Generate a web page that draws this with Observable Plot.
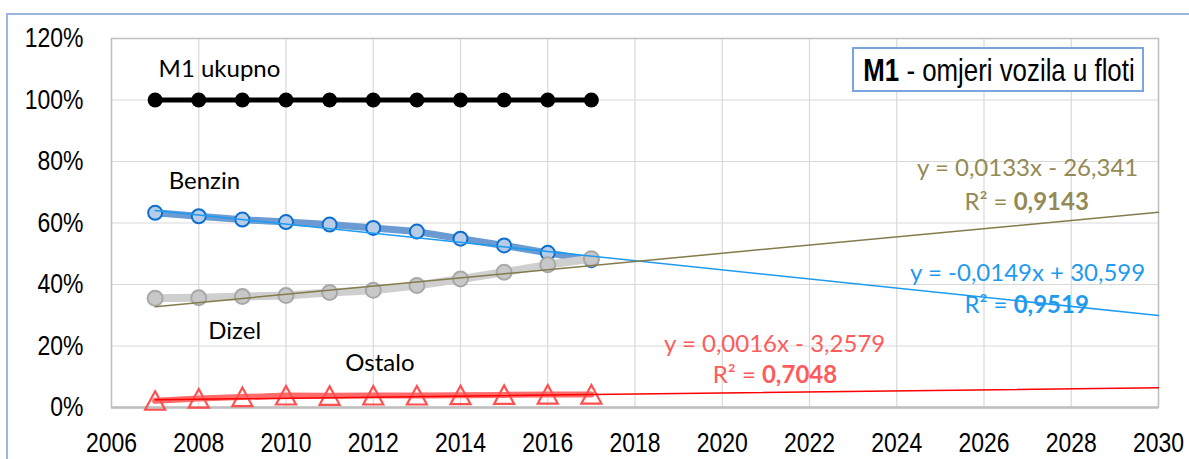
<!DOCTYPE html>
<html><head><meta charset="utf-8">
<script src="https://cdn.jsdelivr.net/npm/d3@7"></script>
<script src="https://cdn.jsdelivr.net/npm/@observablehq/plot@0.6"></script>
<style>
body{margin:0;background:#fff;}
#wrap{position:relative;width:1189px;height:459px;overflow:hidden;background:#fff;}
#wrap svg{position:absolute;left:0;top:0;}
#border{position:absolute;left:6px;top:13px;width:1200px;height:460px;border-left:2px solid #9BB7DE;border-top:2px solid #9BB7DE;pointer-events:none;}
#legend{position:absolute;left:852px;top:47px;width:288px;height:41px;border:2px solid #7AA5DF;background:#fff;overflow:hidden;}
#legend span{position:absolute;left:145px;top:21px;transform:translate(-50%,-50%) scaleX(0.82);transform-origin:50% 50%;font-family:"Liberation Sans",Arial,sans-serif;font-size:31.5px;line-height:32px;white-space:nowrap;color:#000;}
</style></head>
<body><div id="wrap"></div>
<script>
// ---- data ----
const years = [2007, 2008, 2009, 2010, 2011, 2012, 2013, 2014, 2015, 2016, 2017];
const m1Total = [100, 100, 100, 100, 100, 100, 100, 100, 100, 100, 100];
const benzin = [63.3, 62.2, 61.1, 60.3, 59.5, 58.4, 57.2, 54.9, 52.7, 50.3, 47.9];
const dizel = [35.5, 35.7, 36.1, 36.4, 37.4, 38.1, 39.7, 41.8, 44.0, 46.4, 48.4];
const ostalo = [2.2, 2.9, 3.4, 3.9, 3.8, 3.9, 3.9, 4.0, 4.1, 4.2, 4.2];

const trendYears = [2007, 2030];
const benzinTrend = [64.1, 29.9];
const dizelTrend = [32.8, 63.5];
const ostaloTrend = [2.5, 6.4];

const xTicks = [2006, 2008, 2010, 2012, 2014, 2016, 2018, 2020, 2022, 2024, 2026, 2028, 2030];
const yTicks = [0, 20, 40, 60, 80, 100, 120];

const seriesLabels = ["M1 ukupno", "Benzin", "Dizel", "Ostalo"];
const seriesLabelX = [2007.08, 2007.31, 2008.22, 2011.36];
const seriesLabelY = [109.9, 73.5, 24.7, 14.3];

const eqTexts = ["y = 0,0133x - 26,341", "y = -0,0149x + 30,599", "y = 0,0016x - 3,2579"];
const eqX = [2027.0, 2027.0, 2021.2];
const eqY = [77.7, 43.5, 20.7];
const r2Values = ["0,9143", "0,9519", "0,7048"];
const r2X = [2026.68, 2026.68, 2020.91];
const r2Y = [66.8, 33.2, 10.4];
const eqColors = ["#948A54", "#1E9BF0", "#FF5B5B"];

const legendTitleBold = "M1";
const legendTitleRest = " - omjeri vozila u floti";

// ---- tables ----
const rows = years.map((yr, i) => ({year: yr, m1: m1Total[i], benzin: benzin[i], dizel: dizel[i], ostalo: ostalo[i]}));
const trendRows = trendYears.map((yr, i) => ({year: yr, benzin: benzinTrend[i], dizel: dizelTrend[i], ostalo: ostaloTrend[i]}));
const labelRows = seriesLabels.map((t, i) => ({t, x: seriesLabelX[i], y: seriesLabelY[i]}));
const eqRows = eqTexts.map((t, i) => ({t, x: eqX[i], y: eqY[i], c: eqColors[i], r2: r2Values[i], rx: r2X[i], ry: r2Y[i]}));

const wideTriangle = {
  draw(ctx) {
    ctx.moveTo(0, -9.5);
    ctx.lineTo(10, 9);
    ctx.lineTo(-10, 9);
    ctx.closePath();
  }
};

const sansArial = "Liberation Sans, Arial, sans-serif";
const calibriLike = "Lato, Carlito, Calibri, sans-serif";

const chart = Plot.plot({
  width: 1189,
  height: 459,
  marginLeft: 111,
  marginRight: 31,
  marginTop: 38,
  marginBottom: 52,
  style: {background: "transparent", fontFamily: sansArial},
  x: {domain: [2006, 2030]},
  y: {domain: [0, 120]},
  color: {type: "identity"},
  marks: [
    Plot.gridX(xTicks, {stroke: "#D9D9D9", strokeOpacity: 1, strokeWidth: 1.2}),
    Plot.gridY(yTicks, {stroke: "#D9D9D9", strokeOpacity: 1, strokeWidth: 1.2}),
    Plot.frame({stroke: "#BFBFBF", strokeWidth: 1.5}),
    Plot.ruleY([0], {stroke: "#BFBFBF", strokeWidth: 2.5}),
    Plot.axisX(xTicks, {tickSize: 0, tickPadding: 25, fontSize: 28, fontFamily: sansArial, fill: "#000", tickFormat: d => String(d), label: null}),
    Plot.axisY(yTicks, {tickSize: 0, tickPadding: 28, fontSize: 28, fontFamily: sansArial, fill: "#000", tickFormat: d => d + "%", label: null}),

    Plot.line(rows, {x: "year", y: "m1", stroke: "#000", strokeWidth: 5}),
    Plot.dot(rows, {x: "year", y: "m1", r: 7.5, fill: "#000", stroke: "none"}),

    Plot.line(rows, {x: "year", y: "benzin", stroke: "#6B9BD2", strokeWidth: 7}),
    Plot.dot(rows, {x: "year", y: "benzin", r: 7, fill: "#B8CCE8", stroke: "#0A6FD0", strokeWidth: 2}),

    Plot.line(rows, {x: "year", y: "dizel", stroke: "#CFCFCF", strokeWidth: 8}),
    Plot.dot(rows, {x: "year", y: "dizel", r: 7.5, fill: "#C8C8C8", stroke: "#A8A8A8", strokeWidth: 2}),

    Plot.line(rows, {x: "year", y: "ostalo", stroke: "#FF6A6A", strokeWidth: 6}),
    Plot.dot(rows, {x: "year", y: "ostalo", symbol: wideTriangle, r: 9, fill: "#fff", fillOpacity: 0, stroke: "#FF5050", strokeWidth: 2.2}),

    Plot.line(trendRows, {x: "year", y: "benzin", stroke: "#1E9BF0", strokeWidth: 1.5}),
    Plot.line(trendRows, {x: "year", y: "dizel", stroke: "#857A4C", strokeWidth: 1.5}),
    Plot.line(trendRows, {x: "year", y: "ostalo", stroke: "#FF0000", strokeWidth: 1.5}),

    Plot.text(labelRows, {x: "x", y: "y", text: "t", textAnchor: "start", fontSize: 24, fontFamily: calibriLike, fill: "#000"}),
    Plot.text(eqRows, {x: "x", y: "y", text: "t", fontSize: 24, fontFamily: calibriLike, fill: "c"}),
    Plot.text(eqRows, {x: "rx", y: "ry", text: () => "R² = ", textAnchor: "end", fontSize: 24, fontFamily: calibriLike, fill: "c"}),
    Plot.text(eqRows, {x: "rx", y: "ry", text: "r2", textAnchor: "start", fontSize: 24, fontWeight: "bold", fontFamily: calibriLike, fill: "c"})
  ]
});

// condense the axis tick labels (Arial Narrow look)
d3.select(chart).selectAll('g[aria-label$="tick label"] text').each(function () {
  const t = this.getAttribute("transform");
  if (t) {
    this.setAttribute("transform", t + " scale(0.82,1)");
  } else {
    const x = +this.getAttribute("x") || 0, y = +this.getAttribute("y") || 0;
    this.setAttribute("transform", `translate(${x},${y}) scale(0.82,1) translate(${-x},${-y})`);
  }
});

const wrap = document.getElementById("wrap");
wrap.appendChild(chart);
const border = document.createElement("div");
border.id = "border";
wrap.appendChild(border);
const legend = document.createElement("div");
legend.id = "legend";
const span = document.createElement("span");
const b = document.createElement("b");
b.textContent = legendTitleBold;
span.appendChild(b);
span.appendChild(document.createTextNode(legendTitleRest));
legend.appendChild(span);
wrap.appendChild(legend);
</script>
</body></html>
